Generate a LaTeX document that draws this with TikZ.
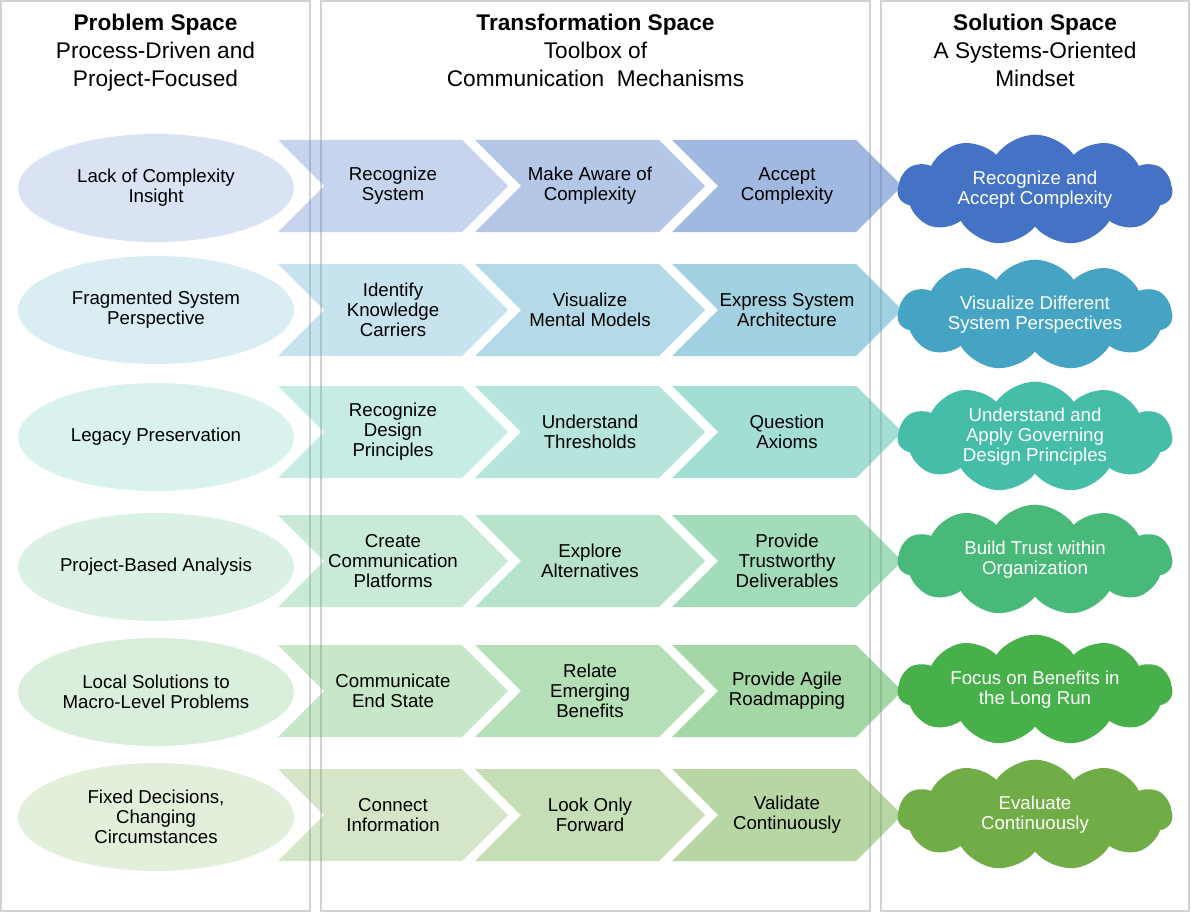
\documentclass[tikz,border=0pt]{standalone}
\usepackage{fontspec}
\setmainfont{Liberation Sans}
\usetikzlibrary{shapes.geometric}
\usetikzlibrary{shapes.symbols}

\definecolor{panelgray}{RGB}{210,210,210}
\definecolor{rowA}{RGB}{68,114,196}
\definecolor{rowB}{RGB}{69,163,196}
\definecolor{rowC}{RGB}{69,189,169}
\definecolor{rowD}{RGB}{72,185,120}
\definecolor{rowE}{RGB}{71,176,75}
\definecolor{rowF}{RGB}{112,173,71}

\tikzset{
  panel/.style={draw=panelgray, line width=1.5pt},
  header/.style={align=center, inner sep=0pt, font=\fontsize{17}{21}\selectfont},
  problem/.style={ellipse, fill=#1, fill opacity=0.2, text opacity=1, minimum width=207pt, minimum height=81pt, align=center, inner sep=0pt, font=\fontsize{14}{15}\selectfont},
  chev/.style={signal, signal to=east, signal from=west, signal pointer angle=90, fill=#1, fill opacity=0.3, text opacity=1, minimum width=172.5pt, minimum height=69pt, align=center, inner sep=0pt, font=\fontsize{14}{15}\selectfont},
  solution/.style={cloud, cloud puffs=11, cloud puff arc=110, cloud ignores aspect, fill=#1, text=white, minimum width=206pt, minimum height=83pt, align=center, inner sep=0pt, font=\fontsize{14}{15}\selectfont}
}

\begin{document}
\begin{tikzpicture}[x=0.75pt,y=0.75pt,yscale=-1,xscale=1]
\useasboundingbox (0,0) rectangle (1191,913);

%Shape: Rectangle [panels]
\draw [panel] (1,1) rectangle (310,911) ;
\draw [panel] (321,1) rectangle (870,911) ;
\draw [panel] (881,1) rectangle (1189,911) ;

% Text Node
\node [header] (hprob) at (155.5,53) {{\bfseries Problem Space}\\Process-Driven and\\Project-Focused};
% Text Node
\node [header] (htrans) at (595.5,50) {{\bfseries Transformation Space}\\Toolbox of\\Communication\ \ Mechanisms};
% Text Node
\node [header] (hsol) at (1035,50) {{\bfseries Solution Space}\\A Systems-Oriented\\Mindset};

%Row 1
\node [problem=rowA] (pA) at (156,188) {Lack of Complexity\\Insight};
\node [chev=rowA] (tA1) at (393,186) {Recognize\\System};
\node [chev=rowA, fill opacity=0.4] (tA2) at (590,186) {Make Aware of\\Complexity};
\node [chev=rowA, fill opacity=0.5] (tA3) at (787,186) {Accept\\Complexity};
\node [solution=rowA] (sA) at (1035,190) {Recognize and\\Accept Complexity};

%Row 2
\node [problem=rowB] (pB) at (156,310) {Fragmented System\\Perspective};
\node [chev=rowB] (tB1) at (393,310) {Identify\\Knowledge\\Carriers};
\node [chev=rowB, fill opacity=0.4] (tB2) at (590,310) {Visualize\\Mental Models};
\node [chev=rowB, fill opacity=0.5] (tB3) at (787,310) {Express System\\Architecture};
\node [solution=rowB] (sB) at (1035,315) {Visualize Different\\System Perspectives};

%Row 3
\node [problem=rowC] (pC) at (156,437) {Legacy Preservation};
\node [chev=rowC] (tC1) at (393,432) {Recognize\\Design\\Principles};
\node [chev=rowC, fill opacity=0.4] (tC2) at (590,432) {Understand\\Thresholds};
\node [chev=rowC, fill opacity=0.5] (tC3) at (787,432) {Question\\Axioms};
\node [solution=rowC] (sC) at (1035,437) {Understand and\\Apply Governing\\Design Principles};

%Row 4
\node [problem=rowD] (pD) at (156,567) {Project-Based Analysis};
\node [chev=rowD] (tD1) at (393,561) {Create\\Communication\\Platforms};
\node [chev=rowD, fill opacity=0.4] (tD2) at (590,561) {Explore\\Alternatives};
\node [chev=rowD, fill opacity=0.5] (tD3) at (787,561) {Provide\\Trustworthy\\Deliverables};
\node [solution=rowD] (sD) at (1035,560) {Build Trust within\\Organization};

%Row 5
\node [problem=rowE] (pE) at (156,692) {Local Solutions to\\Macro-Level Problems};
\node [chev=rowE] (tE1) at (393,691) {Communicate\\End State};
\node [chev=rowE, fill opacity=0.4] (tE2) at (590,691) {Relate\\Emerging\\Benefits};
\node [chev=rowE, fill opacity=0.5] (tE3) at (787,691) {Provide Agile\\Roadmapping};
\node [solution=rowE] (sE) at (1035,690) {Focus on Benefits in\\the Long Run};

%Row 6
\node [problem=rowF] (pF) at (156,817) {Fixed Decisions,\\Changing\\Circumstances};
\node [chev=rowF] (tF1) at (393,815) {Connect\\Information};
\node [chev=rowF, fill opacity=0.4] (tF2) at (590,815) {Look Only\\Forward};
\node [chev=rowF, fill opacity=0.5] (tF3) at (787,815) {Validate\\Continuously};
\node [solution=rowF] (sF) at (1035,815) {Evaluate\\Continuously};

\end{tikzpicture}
\end{document}
